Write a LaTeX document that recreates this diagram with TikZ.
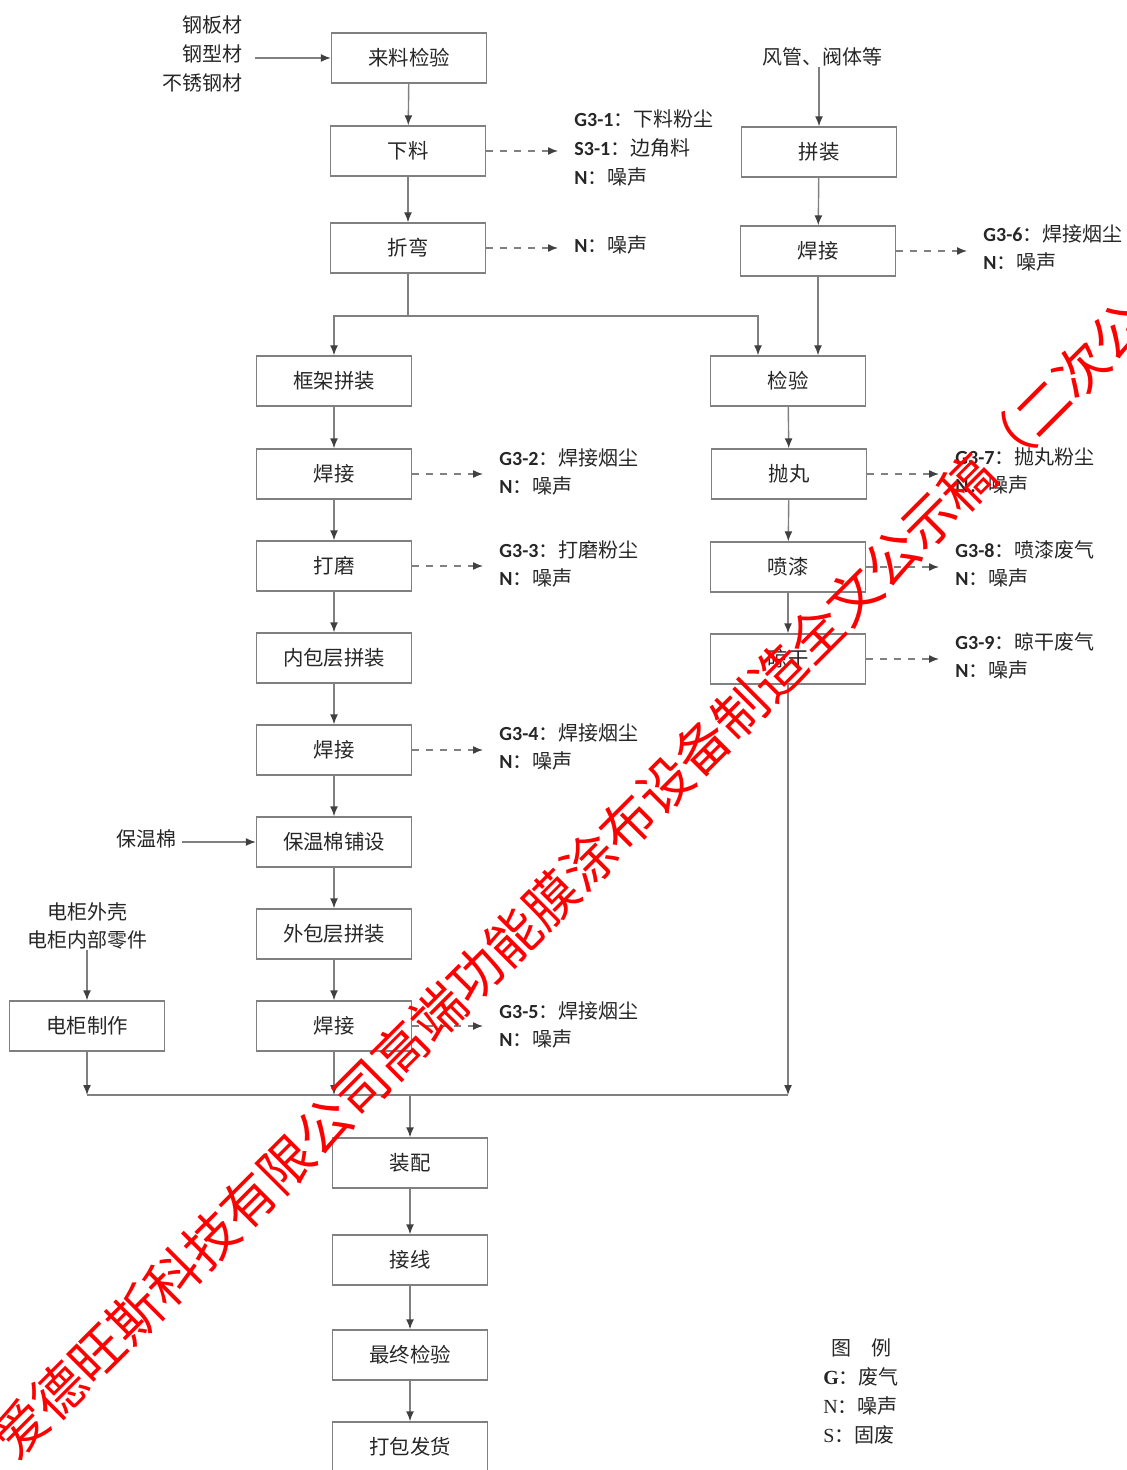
\documentclass[tikz,border=0pt]{standalone}
\usepackage{fontspec}
\setmainfont{Noto Sans CJK SC}
\newfontfamily\carlito{Carlito}
\newfontfamily\tnr{Liberation Serif}
\usetikzlibrary{arrows.meta, positioning}
\newcommand{\gcode}[1]{{\carlito\bfseries #1}}

\begin{document}
\begin{tikzpicture}[x=0.5pt, y=-0.5pt,
box/.style={rectangle, draw=black!50, line width=0.7pt, minimum width=77.5pt, minimum height=25pt, inner sep=0pt, text=black!85, font=\fontsize{10.2}{12}\selectfont},
txt/.style={inner sep=0pt, text=black!85, font=\fontsize{10}{14.3}\selectfont},
em/.style={txt, align=left, anchor=west},
ln/.style={draw=black!50, line width=0.7pt},
arr/.style={ln, -{Latex[length=5pt, width=4pt, color=black!75]}},
darr/.style={arr, dash pattern=on 3.5pt off 3.5pt, shorten >=8pt}]

\clip (0,0) rectangle (1126,1470);

% main chain
\node[box] (lljy) at (409,58) {来料检验};
\node[box] (xl) at (408,151) {下料};
\node[box] (zw) at (408,248) {折弯};
\node[box] (kj) at (334,381) {框架拼装};
\node[box] (hj1) at (334,474) {焊接};
\node[box] (dm) at (334,566) {打磨};
\node[box] (nb) at (334,658) {内包层拼装};
\node[box] (hj2) at (334,750) {焊接};
\node[box] (bw) at (334,842) {保温棉铺设};
\node[box] (wb) at (334,934) {外包层拼装};
\node[box] (hj3) at (334,1026) {焊接};
\node[box] (dg) at (87,1026) {电柜制作};
\node[box] (zp) at (410,1163) {装配};
\node[box] (jx) at (410,1260) {接线};
\node[box] (zz) at (410,1355) {最终检验};
\node[box] (db) at (410,1447) {打包发货};

% right chain
\node[box] (pz) at (819,152) {拼装};
\node[box] (hj0) at (818,251) {焊接};
\node[box] (jy) at (788,381) {检验};
\node[box] (pw) at (789,474) {抛丸};
\node[box] (pq) at (788,567) {喷漆};
\node[box] (lg) at (788,659) {晾干};

% inputs
\node[txt, align=right, anchor=east] (gc) at (243,54) {钢板材\\钢型材\\不锈钢材};
\node[txt] (fg) at (822,57) {风管、阀体等};
\node[txt] (bwm) at (146,839) {保温棉};
\node[txt, align=center] (dgl) at (87,926) {电柜外壳\\电柜内部零件};

% emissions
\node[em] (e1) at (574,148) {\gcode{G3-1}：下料粉尘\\\gcode{S3-1}：边角料\\\gcode{N}：噪声};
\node[em] (e2) at (574,245) {\gcode{N}：噪声};
\node[em] (e6) at (983,248) {\gcode{G3-6}：焊接烟尘\\\gcode{N}：噪声};
\node[em] (g2) at (499,472) {\gcode{G3-2}：焊接烟尘\\\gcode{N}：噪声};
\node[em] (g3) at (499,564) {\gcode{G3-3}：打磨粉尘\\\gcode{N}：噪声};
\node[em] (g4) at (499,747) {\gcode{G3-4}：焊接烟尘\\\gcode{N}：噪声};
\node[em] (g5) at (499,1025) {\gcode{G3-5}：焊接烟尘\\\gcode{N}：噪声};
\node[em] (g7) at (955,471) {\gcode{G3-7}：抛丸粉尘\\\gcode{N}：噪声};
\node[em] (g8) at (955,564) {\gcode{G3-8}：喷漆废气\\\gcode{N}：噪声};
\node[em] (g9) at (955,656) {\gcode{G3-9}：晾干废气\\\gcode{N}：噪声};

% legend
\node[txt] (tl) at (861,1348) {图\hspace{1em}例};
\node[txt, align=left, anchor=west] (lgd) at (823,1406) {{\tnr\bfseries G}：废气\\{\tnr N}：噪声\\{\tnr S}：固废};

\coordinate (b1) at (408,316);
\coordinate (b2) at (410,1095);

\draw[arr] ([xshift=6pt]lljy.west -| gc.east) -- (lljy.west);
\draw[arr] (lljy) -- (xl);
\draw[arr] (xl) -- (zw);
\draw[ln] (zw) -- (b1);
\draw[arr] (b1) -| (kj.north);
\draw[arr] (b1) -| ([xshift=-15pt]jy.north);
\draw[arr] (kj) -- (hj1);
\draw[arr] (hj1) -- (dm);
\draw[arr] (dm) -- (nb);
\draw[arr] (nb) -- (hj2);
\draw[arr] (hj2) -- (bw);
\draw[arr] (bw) -- (wb);
\draw[arr] (wb) -- (hj3);
\draw[arr] ([xshift=3pt]bw.west -| bwm.east) -- (bw.west);
\draw[arr] (dgl) -- (dg);

\draw[arr] (pz.north |- fg.south) -- (pz.north);
\draw[arr] (pz) -- (hj0);
\draw[arr] (hj0) -- (hj0 |- jy.north);
\draw[arr] (jy) -- (pw);
\draw[arr] (pw) -- (pq);
\draw[arr] (pq) -- (lg);

\draw[arr] (dg) -- (dg |- b2);
\draw[arr] (hj3) -- (hj3 |- b2);
\draw[arr] (lg) -- (lg |- b2);
\draw[ln] (dg |- b2) -- (lg |- b2);
\draw[arr] (b2) -- (zp);
\draw[arr] (zp) -- (jx);
\draw[arr] (jx) -- (zz);
\draw[arr] (zz) -- (db);

\draw[darr] (xl.east) -- (xl.east -| e1.west);
\draw[darr] (zw.east) -- (zw.east -| e2.west);
\draw[darr] (hj0.east) -- (hj0.east -| e6.west);
\draw[darr] (hj1.east) -- (hj1.east -| g2.west);
\draw[darr] (dm.east) -- (dm.east -| g3.west);
\draw[darr] (hj2.east) -- (hj2.east -| g4.west);
\draw[darr] (hj3.east) -- (hj3.east -| g5.west);
\draw[darr] (pw.east) -- (pw.east -| g7.west);
\draw[darr] (pq.east) -- (pq.east -| g8.west);
\draw[darr] (lg.east) -- (lg.east -| g9.west);

% watermark
\node[rotate=45, text=red, inner sep=0pt, font=\fontsize{26.75}{26.75}\selectfont] (wm) at (570,880) {爱德旺斯科技有限公司高端功能膜涂布设备制造全文公示稿（二次公};

\end{tikzpicture}
\end{document}
